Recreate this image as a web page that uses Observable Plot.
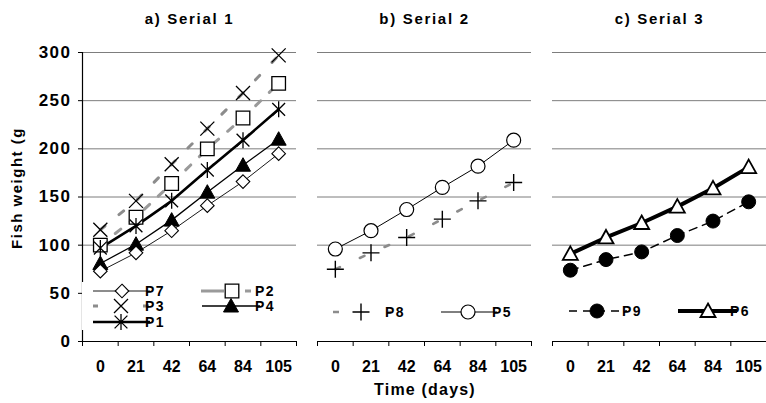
<!DOCTYPE html>
<html><head><meta charset="utf-8">
<script src="https://cdn.jsdelivr.net/npm/d3@7"></script>
<script src="https://cdn.jsdelivr.net/npm/@observablehq/plot@0.6"></script>
<style>
body{margin:0;background:#fff;}
#chart{width:766px;height:403px;}
svg text{font-family:"Liberation Sans",Arial,Helvetica,sans-serif;font-weight:bold;fill:#000;}
[aria-label="y-axis tick label"] text{letter-spacing:1.5px;}
[aria-label="fx-axis tick label"] text{letter-spacing:1.7px;}
</style></head><body><div id="chart"></div>
<script>
// ---- data ----
const panels = ["a) Serial 1", "b) Serial 2", "c) Serial 3"];
const days = [0, 21, 42, 64, 84, 105];
const yTicks = [0, 50, 100, 150, 200, 250, 300];
const P7 = [73, 92, 115, 141, 166, 195];
const P4 = [81, 101, 126, 155, 183, 210];
const P1 = [97, 120, 146, 178, 209, 241];
const P2 = [100, 129, 164, 200, 232, 268];
const P3 = [116, 146, 184, 221, 258, 297];
const P8 = [75, 92, 108, 127, 146, 165];
const P5 = [96, 115, 137, 160, 182, 209];
const P9 = [74, 85, 93, 110, 125, 145];
const P6 = [91, 108, 123, 140, 159, 181];
const yLabel = "Fish weight (g";
const xLabel = "Time (days)";

// ---- symbols (r = half width) ----
const R = s => Math.sqrt(s / Math.PI);
const SYM = {
  diamond: {draw(c, s) { const r = R(s); c.moveTo(0, -r); c.lineTo(r, 0); c.lineTo(0, r); c.lineTo(-r, 0); c.closePath(); }},
  square: {draw(c, s) { const r = R(s); c.moveTo(-r, -r); c.lineTo(r, -r); c.lineTo(r, r); c.lineTo(-r, r); c.closePath(); }},
  triangle: {draw(c, s) { const r = R(s); c.moveTo(0, -r); c.lineTo(r, r * 0.8); c.lineTo(-r, r * 0.8); c.closePath(); }},
  times: {draw(c, s) { const r = R(s); c.moveTo(-r, -r); c.lineTo(r, r); c.moveTo(-r, r); c.lineTo(r, -r); }},
  plus: {draw(c, s) { const r = R(s); c.moveTo(-r, 0); c.lineTo(r, 0); c.moveTo(0, -r); c.lineTo(0, r); }},
  asterisk: {draw(c, s) { const r = R(s), d = r * 0.8; c.moveTo(-d, -d); c.lineTo(d, d); c.moveTo(-d, d); c.lineTo(d, -d); c.moveTo(0, -r); c.lineTo(0, r); }},
  circle: {draw(c, s) { const r = R(s); c.moveTo(r, 0); c.arc(0, 0, r, 0, 2 * Math.PI); }}
};

// ---- series styles ----
const series = [
  {id: "P3", v: P3, panel: 0, sym: "times", r: 7, fill: "none", sw: 1.3, lw: 3, stroke: "#8c8c8c", dash: "6,18"},
  {id: "P2", v: P2, panel: 0, sym: "square", r: 6.8, fill: "white", sw: 1.3, lw: 3, stroke: "#9a9a9a", dash: "7,12"},
  {id: "P1", v: P1, panel: 0, sym: "asterisk", r: 8, fill: "none", sw: 1.3, lw: 2.6, stroke: "#000"},
  {id: "P4", v: P4, panel: 0, sym: "triangle", r: 7.5, fill: "#000", sw: 1, lw: 1.3, stroke: "#000"},
  {id: "P7", v: P7, panel: 0, sym: "diamond", r: 6.8, fill: "white", sw: 1.1, lw: 0.9, stroke: "#000"},
  {id: "P8", v: P8, panel: 1, sym: "plus", r: 8.5, fill: "none", sw: 1.4, lw: 2.6, stroke: "#8c8c8c", dash: "5,22"},
  {id: "P5", v: P5, panel: 1, sym: "circle", r: 7, fill: "white", sw: 1.2, lw: 1, stroke: "#000"},
  {id: "P9", v: P9, panel: 2, sym: "circle", r: 7, fill: "#000", sw: 1, lw: 1.5, stroke: "#000", dash: "8,6"},
  {id: "P6", v: P6, panel: 2, sym: "triangle", r: 7.5, fill: "white", sw: 1.8, lw: 4, stroke: "#000"}
];
const rows = s => days.map((d, i) => ({series: s.id, panel: panels[s.panel], i, w: s.v[i]}));

const idx = d3.range(days.length);
const marks = [
  Plot.ruleY(yTicks.slice(1), {stroke: "#7d7d7d", strokeWidth: 1}),
  Plot.ruleY([yTicks[0]], {stroke: "#000", strokeWidth: 1.2}),
  Plot.ruleX([panels[0]], {fx: d => d, x: -0.5, y1: yTicks[0], y2: yTicks[yTicks.length - 1], stroke: "#000", strokeWidth: 1.2}),
  Plot.axisY({ticks: yTicks, tickSize: 4, tickPadding: 7, fontSize: 17, label: null}),
  Plot.axisX({ticks: idx, tickFormat: i => days[i], tickSize: 0, tickPadding: 19, fontSize: 16, label: null}),
  Plot.axisX({ticks: d3.range(days.length + 1).map(i => i - 0.5), tickFormat: () => "", tickSize: 5, label: null}),
  Plot.axisFx({anchor: "top", tickSize: 0, tickPadding: 29, fontSize: 15, label: null})
];
for (const s of series) {
  marks.push(Plot.line(rows(s), {fx: "panel", x: "i", y: "w", stroke: s.stroke, strokeWidth: s.lw, strokeDasharray: s.dash}));
}
for (const s of series) {
  marks.push(Plot.dot(rows(s), {fx: "panel", x: "i", y: "w", symbol: SYM[s.sym], r: s.r, fill: s.fill, stroke: "#000", strokeWidth: s.sw}));
}

const chart = Plot.plot({
  width: 766, height: 403,
  marginLeft: 81, marginRight: 0, marginTop: 52, marginBottom: 62,
  x: {domain: [-0.5, days.length - 0.5]},
  y: {domain: [yTicks[0], yTicks[yTicks.length - 1]]},
  fx: {domain: panels, paddingInner: 0.09, paddingOuter: 0},
  marks
});
document.getElementById("chart").appendChild(chart);

// ---- in-plot legends (Excel style boxes) ----
const svg = d3.select(chart);
const g = svg.append("g");
[[82, 297], [317, 531], [552, 766]].forEach(([a, b]) =>
  g.append("rect").attr("x", a).attr("y", 282).attr("width", b - a).attr("height", 48).attr("fill", "white"));
const legend = [
  {id: "P7", y: 291, x0: 93, x1: 150, cx: 122, tx: 155},
  {id: "P2", y: 291, x0: 201, x1: 251, cx: 232, tx: 265, dash: "23,21,6,100"},
  {id: "P3", y: 306, x0: 93, x1: 149, cx: 121, tx: 155, dash: "5,45,6,100"},
  {id: "P4", y: 306, x0: 202, x1: 260, cx: 231, tx: 265},
  {id: "P1", y: 322, x0: 93, x1: 150, cx: 121, tx: 155},
  {id: "P8", y: 312, x0: 333, x1: 391, cx: 361, tx: 395, dash: "6,49,8,100"},
  {id: "P5", y: 312, x0: 441, x1: 497, cx: 468, tx: 502},
  {id: "P9", y: 311, x0: 569, x1: 627, cx: 597, tx: 632},
  {id: "P6", y: 311, x0: 678, x1: 737, cx: 708, tx: 740}
];
for (const L of legend) {
  const s = series.find(d => d.id === L.id);
  g.append("line").attr("x1", L.x0).attr("x2", L.x1).attr("y1", L.y).attr("y2", L.y)
    .attr("stroke", s.stroke).attr("stroke-width", s.lw).attr("stroke-dasharray", L.dash || s.dash || null);
  g.append("path").attr("transform", `translate(${L.cx},${L.y})`)
    .attr("d", d3.symbol(SYM[s.sym], Math.PI * s.r * s.r)())
    .attr("fill", s.fill).attr("stroke", "#000").attr("stroke-width", s.sw);
  g.append("text").attr("x", L.tx).attr("y", L.y + 5).attr("font-size", 14).attr("letter-spacing", "1.5px").text(L.id);
}
// axis titles
svg.append("text").attr("transform", "translate(16,188) rotate(-90)").attr("text-anchor", "middle")
  .attr("dominant-baseline", "central").attr("font-size", 15).attr("letter-spacing", "1.5px").text(yLabel);
svg.append("text").attr("x", 425).attr("y", 395).attr("text-anchor", "middle")
  .attr("font-size", 16).attr("letter-spacing", "1.2px").text(xLabel);
</script></body></html>
